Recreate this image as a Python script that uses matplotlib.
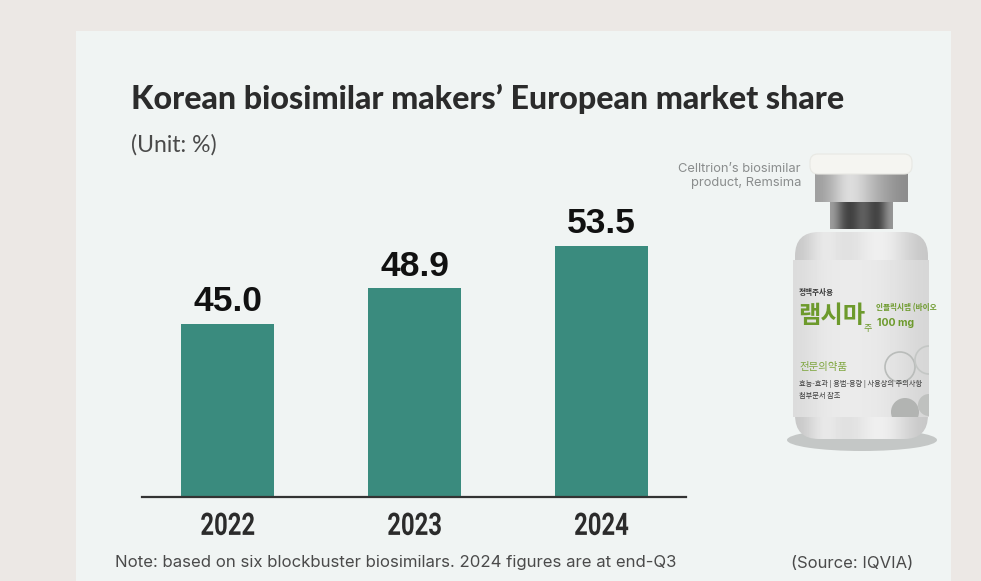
import numpy as np
import matplotlib
matplotlib.use('Agg')
import matplotlib.pyplot as plt
import matplotlib.patheffects as pe
from matplotlib.patches import Rectangle, FancyBboxPatch, Circle, Ellipse
from matplotlib.transforms import Affine2D

years = ['2022', '2023', '2024']
shares = [45.0, 48.9, 53.5]

W, H = 981, 581
BG = '#ece8e5'
PANEL = '#f0f4f3'
BAR = '#3a8b7e'
DARK = '#2b2b2b'


class Squeeze(pe.AbstractPathEffect):
    # narrows a text around cx, stands in for the condensed year font
    def __init__(self, sx, cx):
        super().__init__()
        self.sx = sx
        self.cx = cx

    def draw_path(self, renderer, gc, tpath, affine, rgbFace=None):
        t = Affine2D().translate(-self.cx, 0).scale(self.sx, 1).translate(self.cx, 0)
        renderer.draw_path(gc, tpath, affine + t, rgbFace)


def shaded(page, patch, stops, extent):
    # horizontal grey gradient clipped to a patch
    page.add_patch(patch)
    im = page.imshow(np.array(stops)[None, :], cmap='gray', vmin=0, vmax=1, extent=extent,
                     aspect='auto', interpolation='bicubic', zorder=patch.get_zorder())
    im.set_clip_path(patch)


fig = plt.figure(figsize=(W / 100, H / 100), dpi=100, facecolor=BG)

# page layer in pixel coordinates
page = fig.add_axes([0, 0, 1, 1])
page.axis('off')
page.add_patch(Rectangle((76, 31), 875, 550, color=PANEL, lw=0))

# bars, the y axis does not start at zero in the original
ax = fig.add_axes([142 / W, 1 - 497 / H, 544 / W, 280 / H])
ax.patch.set_alpha(0)
x = list(range(len(years)))
ax.bar(x, shares, width=0.5, color=BAR)
ax.set_xlim(-0.459, 2.452)
ax.set_ylim(26.15, 26.15 + 280 / 9.18)
for s in ['top', 'left', 'right']:
    ax.spines[s].set_visible(False)
ax.spines['bottom'].set_color('#333333')
ax.spines['bottom'].set_linewidth(1.6)
ax.set_yticks([])
ax.set_xticks(x)
labels = ax.set_xticklabels(years, family='Roboto', fontsize=22.3, fontweight='bold', color=DARK)
ax.tick_params(axis='x', length=0, pad=10)
for i, lab in zip(x, labels):
    cx = ax.transData.transform((i, 30))[0]
    lab.set_path_effects([Squeeze(0.77, cx)])
for i, v in zip(x, shares):
    ax.annotate(f'{v:.1f}', (i, v), xytext=(0, 4), textcoords='offset points',
                ha='center', va='bottom', fontsize=25.5, fontweight='bold',
                family='Liberation Sans', color='#111111')

page.text(131, 99, 'Korean biosimilar makers’ European market share', family='Lato',
          fontsize=23.15, fontweight='black', color=DARK, va='center')
page.text(131, 145, '(Unit: %)', family='Lato', fontsize=16.6, color='#4a4a4a', va='center')
page.text(115, 563, 'Note: based on six blockbuster biosimilars. 2024 figures are at end-Q3',
          family='Inter', fontsize=12.05, color='#4a4a4a', va='center')
page.text(791, 563, '(Source: IQVIA)', family='Inter', fontsize=12, color='#4a4a4a', va='center')
page.text(801, 176, 'Celltrion’s biosimilar\nproduct, Remsima', family='Inter', fontsize=9.3,
          color='#8a8d8d', ha='right', va='center', linespacing=1.3)

# vial picture
page.add_patch(Ellipse((862, 440), 150, 22, color='#c4c7c6', lw=0))
glass = FancyBboxPatch((795, 232), 133, 207, boxstyle='round,pad=0,rounding_size=24', lw=0, fc='none')
shaded(page, glass, [.78, .95, .86, .9, .96, .88, .78], (795, 928, 439, 232))
neck = Rectangle((830, 202), 63, 27, lw=0, fc='none')
shaded(page, neck, [.62, .30, .22, .42, .30, .22, .6], (830, 893, 229, 202))
ring = Rectangle((815, 172), 93, 30, lw=0, fc='none')
shaded(page, ring, [.62, .74, .9, .82, .7, .62, .55], (815, 908, 202, 172))
page.add_patch(FancyBboxPatch((810, 154), 102, 20, boxstyle='round,pad=0,rounding_size=8',
                              fc='#f5f5f1', ec='#e8e8e3', lw=0.8))
label = Rectangle((793, 260), 136, 157, lw=0, fc='none')
shaded(page, label, [.86, .91, .92, .92, .91, .88, .84], (793, 929, 417, 260))

marks = [Circle((900, 367), 15, fc='none', ec='#b9bcba', lw=1.2),
         Circle((929, 360), 14, fc='none', ec='#c4c7c5', lw=1.2),
         Circle((905, 412), 14, fc='#b2b4b2', lw=0),
         Circle((929, 405), 11, fc='#bfc1bf', lw=0)]
for m in marks:
    page.add_patch(m)
    m.set_clip_path(label)

kr = ['Noto Sans CJK KR', 'DejaVu Sans']
page.text(799, 292, '정맥주사용', family=kr, fontsize=5.5, fontweight='bold', color='#3a3a3a', va='center')
page.text(798, 316, '램시마', family=kr, fontsize=17.5, fontweight='bold', color='#6d9a2c', va='center')
page.text(864, 328, '주', family=kr, fontsize=6.5, color='#6d9a2c', va='center')
page.text(876, 308, '인플릭시맵 (바이오', family=kr, fontsize=5.5, fontweight='bold',
          color='#6d9a2c', va='center').set_clip_path(label)
page.text(877, 323, '100 mg', family='Inter', fontsize=7.5, fontweight='bold', color='#6d9a2c', va='center')
page.text(799, 367, '전문의약품', family=kr, fontsize=7.5, color='#7fa63f', va='center')
page.text(799, 384, '효능-효과 | 용법-용량 | 사용상의 주의사항', family=kr, fontsize=5.2,
          color='#3a3a3a', va='center').set_clip_path(label)
page.text(799, 396, '첨부문서 참조', family=kr, fontsize=5.2, color='#3a3a3a', va='center')

page.set_xlim(0, W)
page.set_ylim(H, 0)

fig.savefig('out.png', dpi=100, facecolor=BG)
